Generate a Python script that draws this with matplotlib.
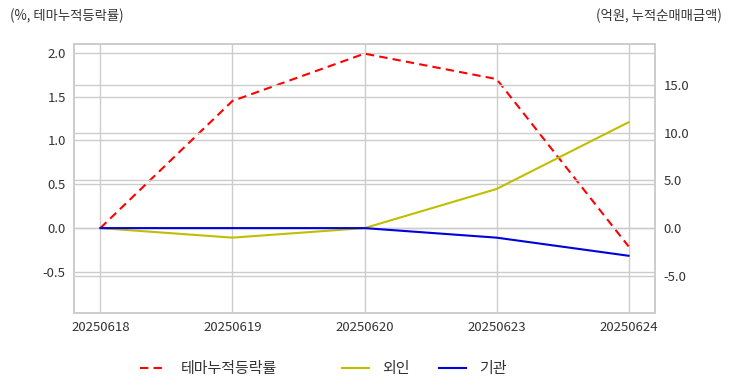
import numpy as np
import matplotlib.pyplot as plt

plt.rcParams['font.family'] = ['Noto Sans CJK KR', 'DejaVu Sans']

dates = ['20250618', '20250619', '20250620', '20250623', '20250624']
theme_ret = [0.0, 1.45, 1.99, 1.70, -0.21]      # %, 테마누적등락률
foreign = [0.0, -1.0, 0.0, 4.1, 11.1]           # 억원, 외인
institution = [0.0, 0.0, 0.0, -1.0, -2.9]       # 억원, 기관

grid_c = '#cccccc'
text_c = '#333333'

fig = plt.figure(figsize=(7.32, 3.92), dpi=100)
ax = fig.add_axes([74/732, 1-313/392, (655-74)/732, (313-44)/392])
ax2 = ax.twinx()

x = np.arange(len(dates))
l1, = ax.plot(x, theme_ret, color='red', ls=(0, (4, 2.5)), lw=1.5, label='테마누적등락률')
l2, = ax2.plot(x, foreign, color='#bfbf00', lw=1.5, label='외인')
l3, = ax2.plot(x, institution, color='#0000dd', lw=1.5, label='기관')

ax.set_xlim(-0.2, 4.2)
ax.set_ylim(-0.97, 2.1)
ax.set_yticks([-0.5, 0.0, 0.5, 1.0, 1.5, 2.0])
ax.set_yticklabels(['-0.5', '0.0', '0.5', '1.0', '1.5', '2.0'])
ax2.set_ylim(-8.9, 19.3)
ax2.set_yticks([-5, 0, 5, 10, 15])
ax2.set_yticklabels(['-5.0', '0.0', '5.0', '10.0', '15.0'])
ax.set_xticks(x)
ax.set_xticklabels(dates)

for a in (ax, ax2):
    a.grid(True, color=grid_c, lw=1)
    a.set_axisbelow(True)
    for s in a.spines.values():
        s.set_color(grid_c)
        s.set_linewidth(1.2)
    a.tick_params(length=0, labelsize=9.5, colors=text_c, pad=6)
ax2.grid(axis='x', visible=False)

fig.text(10/732, 1-16/392, '(%, 테마누적등락률)', fontsize=9.6, color=text_c, va='center')
fig.text(722/732, 1-16/392, '(억원, 누적순매매금액)', fontsize=9.6, color=text_c, va='center', ha='right')

leg_kw = dict(frameon=False, fontsize=10.8, handlelength=1.8, handletextpad=0.9,
              borderpad=0, borderaxespad=0, labelcolor=text_c, loc='center left')
fig.legend(handles=[l1], bbox_to_anchor=(140/732, 1-369/392), **leg_kw)
fig.legend(handles=[l2, l3], bbox_to_anchor=(342/732, 1-369/392), ncol=2,
           columnspacing=1.9, **leg_kw)

fig.savefig('out.png', dpi=100)
